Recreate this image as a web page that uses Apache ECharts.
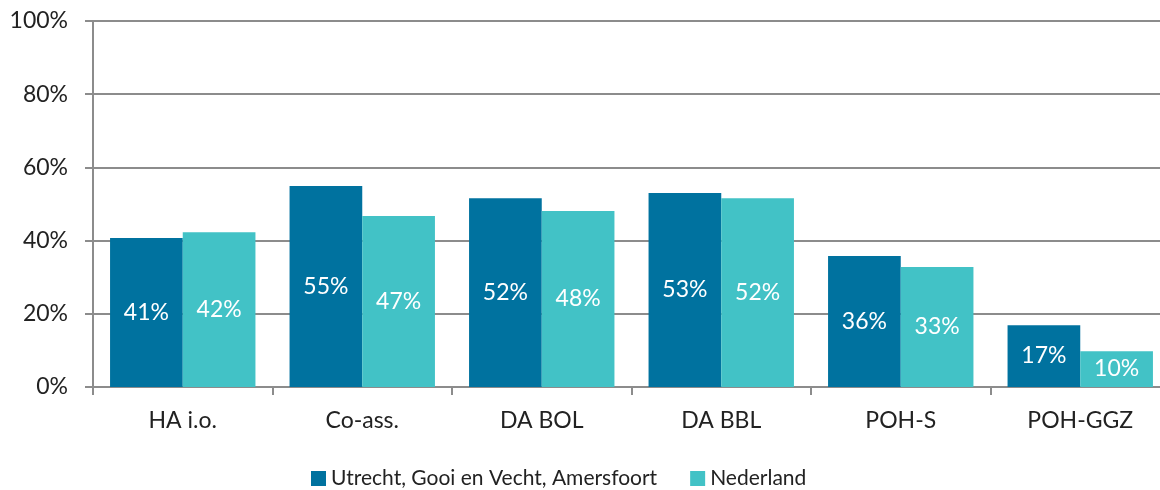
<!DOCTYPE html>
<html><head><meta charset="utf-8">
<script src="https://cdn.jsdelivr.net/npm/echarts@6/dist/echarts.min.js"></script>
<style>html,body{margin:0;padding:0;background:#fff}#c{width:1160px;height:490px}</style>
</head><body><div id="c"></div>
<script>
const categories = ['HA i.o.', 'Co-ass.', 'DA BOL', 'DA BBL', 'POH-S', 'POH-GGZ'];
const regionValues = [40.7, 54.9, 51.6, 53.0, 35.8, 16.9];
const nlValues = [42.3, 46.7, 48.1, 51.6, 32.8, 9.8];
const seriesNames = ['Utrecht, Gooi en Vecht, Amersfoort', 'Nederland'];
const yTicks = [0, 20, 40, 60, 80, 100];

const font = 'Lato, "Open Sans", sans-serif';
const chart = echarts.init(document.getElementById('c'), null, {renderer: 'canvas'});
const lbl = {
  show: true, position: 'inside', color: '#fff', fontFamily: font, fontSize: 23,
  formatter: p => Math.round(p.value) + '%'
};
chart.setOption({
  animation: false,
  grid: {left: 93, width: 1077, top: 21, bottom: 103, containLabel: false, outerBoundsMode: 'none'},
  legend: {
    top: 463, left: 306, itemWidth: 15, itemHeight: 15, itemGap: 33,
    icon: 'rect',
    textStyle: {fontFamily: font, fontSize: 21, color: '#222'},
    data: seriesNames
  },
  xAxis: {
    type: 'category', data: categories,
    axisLine: {lineStyle: {color: '#8c8c8c', width: 2}},
    axisTick: {show: true, length: 8, lineStyle: {color: '#8c8c8c', width: 2}},
    axisLabel: {fontFamily: font, fontSize: 23, color: '#222', margin: 22}
  },
  yAxis: {
    type: 'value', min: yTicks[0], max: yTicks[yTicks.length - 1], interval: 20,
    axisLine: {show: true, lineStyle: {color: '#8c8c8c', width: 2}},
    axisTick: {show: true, length: 8, lineStyle: {color: '#8c8c8c', width: 2}},
    splitLine: {lineStyle: {color: '#8c8c8c', width: 2}},
    axisLabel: {fontFamily: font, fontSize: 23, color: '#222', margin: 25, formatter: v => v + '%'}
  },
  series: [
    {name: seriesNames[0], type: 'bar', data: regionValues, barGap: '0%', barCategoryGap: '19%',
     itemStyle: {color: '#00729f'}, label: lbl},
    {name: seriesNames[1], type: 'bar', data: nlValues,
     itemStyle: {color: '#42c2c6'}, label: lbl}
  ]
});
</script></body></html>
